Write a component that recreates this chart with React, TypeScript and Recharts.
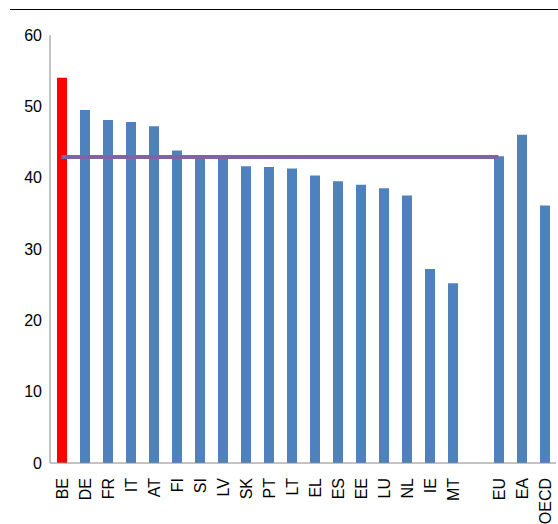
import React from 'react';
import { ComposedChart, Bar, Line, XAxis, YAxis, Cell } from 'recharts';

const categories = ['BE','DE','FR','IT','AT','FI','SI','LV','SK','PT','LT','EL','ES','EE','LU','NL','IE','MT','','EU','EA','OECD'];
const values = [54,49.5,48.1,47.8,47.2,43.8,43,42.8,41.6,41.5,41.3,40.3,39.5,39,38.5,37.5,27.2,25.2,null,43,46,36.1];
const euAverage = 42.9;
const yTicks = [0,10,20,30,40,50,60];

const data = categories.map((c, i) => ({
  name: c,
  v: values[i],
  avg: i <= 19 && c !== '' ? euAverage : null,
}));

const Tick = (props: any) => {
  const { x, y, payload } = props;
  return (
    <text x={x + 6} y={y + 7} transform={`rotate(-90 ${x + 6} ${y + 7})`} textAnchor="end" fontSize={16} fill="#000" fontFamily="Liberation Sans, Arial">
      {payload.value}
    </text>
  );
};

export default function App() {
  return (
    <div style={{ position: 'absolute', left: 0, top: 0, width: 558, height: 524, background: '#fff', fontFamily: 'Liberation Sans, Arial' }}>
      <div style={{ position: 'absolute', left: 10, top: 9, width: 548, borderTop: '1px solid #000' }} />
      <ComposedChart width={558} height={524} data={data} margin={{ top: 35, right: 2, left: 0, bottom: 0 }}>
        <YAxis width={50} domain={[0, 60]} ticks={yTicks} tickLine={false} axisLine={{ stroke: '#888' }} tick={{ fontSize: 16, fill: '#000' }} />
        <XAxis dataKey="name" height={61} interval={0} tickLine={false} axisLine={{ stroke: '#888' }} tick={<Tick />} />
        <Bar dataKey="v" barSize={10} isAnimationActive={false}>
          {data.map((d, i) => <Cell key={i} fill={d.name === 'BE' ? '#FF0000' : '#4F81BD'} />)}
        </Bar>
        <Line dataKey="avg" stroke="#8064A2" strokeWidth={4} dot={false} connectNulls isAnimationActive={false} />
      </ComposedChart>
    </div>
  );
}
